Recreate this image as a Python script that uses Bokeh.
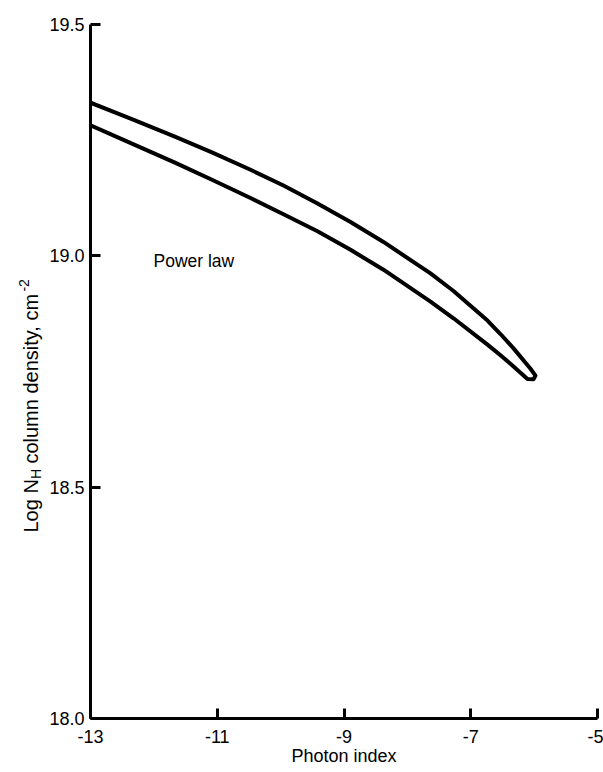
import math
from bokeh.plotting import figure
from bokeh.models import Range1d, FixedTicker, Label
from bokeh.layouts import row
from bokeh.core.properties import value
from bokeh.embed import file_html
from bokeh.resources import INLINE

# ---- data ----
x_ticks = [-13, -11, -9, -7, -5]
x_tick_labels = ["-13", "-11", "-9", "-7", "-5"]
y_ticks = [18.0, 18.5, 19.0, 19.5]
y_tick_labels = ["18.0", "18.5", "19.0", "19.5"]

# upper boundary of the contour (left -> tip)
upper_x = [-13.0, -12.337, -11.659, -11.075, -10.475, -9.955, -9.418, -8.897, -8.377,
           -7.635, -7.272, -6.736, -6.531, -6.325, -6.057, -5.979, -6.010]
upper_y = [19.331, 19.295, 19.257, 19.223, 19.186, 19.152, 19.113, 19.073, 19.030,
           18.962, 18.924, 18.860, 18.831, 18.800, 18.756, 18.741, 18.733]
# lower boundary of the contour (tip -> left)
lower_x = [-6.105, -6.325, -6.531, -6.736, -7.272, -7.635, -8.377, -8.897, -9.418,
           -9.955, -10.475, -11.075, -11.659, -12.337, -13.0]
lower_y = [18.734, 18.761, 18.785, 18.808, 18.865, 18.901, 18.970, 19.013, 19.053,
           19.090, 19.125, 19.164, 19.201, 19.242, 19.282]

FONT = "Liberation Sans"
W_TITLE = 46
W, H = 603, 772
TOP, BOTTOM = 24, 54

# ---- helper panel holding the rotated y-axis title (with sub/superscript) ----
t = figure(width=W_TITLE, height=H, output_backend="svg", toolbar_location=None,
           x_range=Range1d(0, W_TITLE), y_range=Range1d(BOTTOM, H - TOP),
           x_axis_type=None, y_axis_type=None, min_border=0)
t.min_border_top = TOP
t.min_border_bottom = BOTTOM
t.outline_line_color = None
t.grid.visible = False

title_text = ["Log N", "H", "column density, cm", "-2"]
title_size = ["20px", "14px", "20px", "14px"]
title_dx = [0, 5, 0, -7]
title_len = [53.4, 15.5, 172.0, 12.4]   # advance to next piece (includes word gap after H)
xc = 30
yy = H - 532
xs, ys = [], []
for dx, w in zip(title_dx, title_len):
    xs.append(xc + dx)
    ys.append(yy)
    yy += w
for i in range(4):
    t.text(x=[xs[i]], y=[ys[i]], text=[title_text[i]], angle=math.pi / 2,
           text_font=value(FONT), text_font_size=value(title_size[i]),
           text_baseline="middle", text_align="left", text_color="black")

# ---- main plot ----
p = figure(width=W - W_TITLE, height=H, output_backend="svg", toolbar_location=None,
           x_range=Range1d(-13, -5), y_range=Range1d(18.0, 19.5))
p.min_border_left = 89 - W_TITLE
p.min_border_right = 6
p.min_border_top = TOP
p.min_border_bottom = BOTTOM
p.outline_line_color = None
p.grid.visible = False
p.background_fill_color = "white"
p.border_fill_color = "white"

for ax in (p.xaxis[0], p.yaxis[0]):
    ax.axis_line_width = 3
    ax.axis_line_color = "black"
    ax.major_tick_line_width = 3
    ax.major_tick_line_color = "black"
    ax.major_tick_in = 10
    ax.major_tick_out = 0
    ax.minor_tick_line_color = None
    ax.major_label_text_font = FONT
    ax.major_label_text_font_size = "18px"
    ax.major_label_text_color = "black"

p.xaxis.ticker = FixedTicker(ticks=x_ticks)
p.xaxis.major_label_overrides = {t_: s for t_, s in zip(x_ticks, x_tick_labels)}
p.xaxis.major_label_standoff = 11
p.xaxis.axis_label = "Photon index"
p.xaxis.axis_label_text_font = FONT
p.xaxis.axis_label_text_font_size = "18px"
p.xaxis.axis_label_text_font_style = "normal"
p.xaxis.axis_label_text_color = "black"
p.xaxis.axis_label_standoff = 0

p.yaxis.ticker = FixedTicker(ticks=y_ticks)
p.yaxis.major_label_overrides = {t_: s for t_, s in zip(y_ticks, y_tick_labels)}
p.yaxis.major_label_standoff = 6

cx = upper_x + lower_x
cy = upper_y + lower_y
p.line(cx, cy, line_color="black", line_width=4, line_join="round", line_cap="round")

p.add_layout(Label(x=63, y=458, x_units="screen", y_units="screen", text="Power law",
                   text_font=FONT, text_font_size="17.5px", text_baseline="middle",
                   text_align="left", text_color="black"))

layout = row(t, p)
open("out.html", "w").write(file_html(layout, INLINE))
